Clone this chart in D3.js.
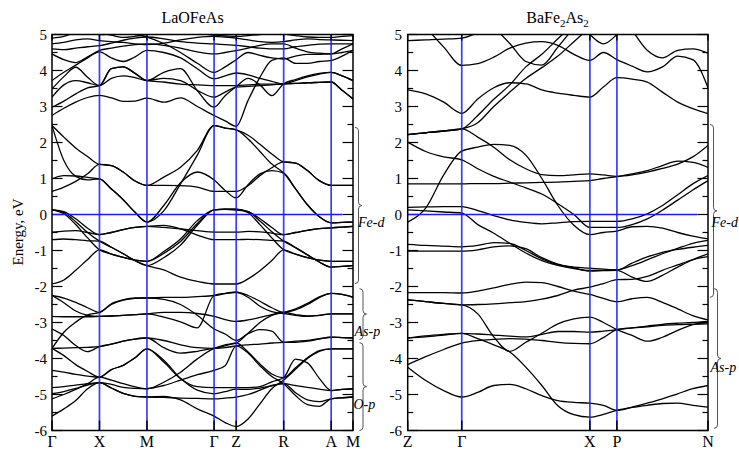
<!DOCTYPE html>
<html><head><meta charset="utf-8">
<script src="https://cdn.jsdelivr.net/npm/d3@7/dist/d3.min.js"></script>
<style>html,body{margin:0;padding:0;background:#fff}svg{display:block}</style>
</head><body>
<script>
// ================= DATA =================
const energyTicks = [5,4,3,2,1,0,-1,-2,-3,-4,-5,-6];
const energyRange = [-6,5];

// ---- LaOFeAs ----
const laofeasTitle = "LaOFeAs";
const laofeasKLabels = ["Γ","X","M","Γ","Z","R","A","M"];
const laofeasKPos = [0,1,2,3.414,3.88,4.88,5.88,6.34];
const laofeasK = [0,0.25,0.5,0.75,1,1.25,1.5,1.75,2,2.354,2.707,3.061,3.414,3.647,3.88,4.13,4.38,4.63,4.88,5.13,5.38,5.63,5.88,6.11,6.34];
const laofeasFeD = [
 [2.47,2.15,1.85,1.61,1.39,1.36,1.18,0.93,0.81,1.04,1.31,1.78,2.47,2.40,2.35,2.20,1.95,1.68,1.46,1.43,1.22,0.94,0.81,0.81,0.81],
 [2.47,1.50,1.06,0.96,0.99,0.71,0.41,0.06,-0.21,0.10,0.85,1.65,2.47,2.40,2.35,2.10,1.75,1.40,1.15,0.71,0.27,-0.06,-0.23,-0.22,-0.21],
 [0.99,1.08,1.07,1.03,0.99,0.71,0.41,0.06,-0.21,0.25,0.88,1.18,0.96,0.67,0.46,0.83,1.13,1.22,1.15,0.71,0.27,-0.06,-0.23,-0.22,-0.21],
 [0.64,0.76,0.92,1.13,1.39,1.36,1.18,0.93,0.81,0.81,0.80,0.76,0.64,0.64,0.64,0.80,1.08,1.30,1.46,1.43,1.22,0.94,0.81,0.81,0.81],
 [0.13,0.08,-0.12,-0.38,-0.56,-0.50,-0.42,-0.36,-0.33,-0.30,-0.40,-0.57,-0.70,-0.70,-0.70,-0.69,-0.70,-0.72,-0.74,-0.92,-1.12,-1.32,-1.46,-1.44,-1.42],
 [0.13,0.05,-0.20,-0.50,-0.74,-0.91,-1.09,-1.28,-1.42,-1.20,-0.85,-0.30,0.13,0.15,0.15,0.08,-0.18,-0.48,-0.74,-0.92,-1.12,-1.32,-1.46,-1.44,-1.42],
 [0.13,0.02,-0.28,-0.65,-0.98,-1.10,-1.19,-1.27,-1.30,-1.03,-0.68,-0.17,0.13,0.15,0.15,0.05,-0.28,-0.65,-0.98,-1.10,-1.20,-1.27,-1.30,-1.30,-1.30],
 [-0.49,-0.46,-0.45,-0.50,-0.56,-0.50,-0.42,-0.36,-0.33,-0.36,-0.40,-0.45,-0.49,-0.49,-0.49,-0.47,-0.48,-0.52,-0.56,-0.50,-0.44,-0.39,-0.37,-0.35,-0.33],
 [-0.70,-0.68,-0.70,-0.73,-0.74,-0.91,-1.09,-1.28,-1.42,-1.54,-1.74,-1.86,-1.93,-1.93,-1.93,-1.79,-1.56,-1.28,-0.98,-1.10,-1.20,-1.27,-1.30,-1.30,-1.30],
 [-1.93,-1.82,-1.55,-1.25,-0.98,-1.10,-1.19,-1.27,-1.30,-1.08,-0.75,-0.25,0.13,0.14,0.12,0.08,-0.12,-0.36,-0.56,-0.50,-0.44,-0.39,-0.37,-0.35,-0.33]
];
const laofeasAsOP = [
 [-2.25,-2.32,-2.44,-2.59,-2.72,-2.48,-2.37,-2.32,-2.32,-2.30,-2.30,-2.28,-2.25,-2.20,-2.16,-2.25,-2.41,-2.59,-2.72,-2.65,-2.50,-2.31,-2.19,-2.22,-2.30],
 [-2.25,-2.45,-2.68,-2.80,-2.83,-2.82,-2.80,-2.78,-2.76,-2.85,-2.98,-3.15,-2.25,-2.19,-2.16,-2.30,-2.55,-2.70,-2.75,-2.80,-2.83,-2.80,-2.76,-2.76,-2.76],
 [-2.83,-2.84,-2.84,-2.84,-2.83,-2.82,-2.80,-2.78,-2.76,-2.72,-2.72,-2.75,-2.83,-2.92,-2.97,-2.93,-2.86,-2.78,-2.72,-2.78,-2.82,-2.80,-2.76,-2.76,-2.76],
 [-3.72,-3.27,-2.99,-2.79,-2.72,-2.50,-2.38,-2.33,-2.32,-2.36,-2.50,-2.80,-3.18,-3.32,-3.50,-3.31,-3.20,-3.24,-3.55,-3.52,-3.50,-3.45,-3.41,-3.42,-3.43],
 [-3.18,-3.36,-3.64,-3.81,-3.67,-3.60,-3.52,-3.46,-3.43,-3.50,-3.62,-3.70,-3.72,-3.65,-3.57,-3.82,-4.15,-4.43,-4.53,-4.26,-3.98,-3.78,-3.73,-3.73,-3.73],
 [-3.72,-3.71,-3.70,-3.69,-3.67,-3.60,-3.52,-3.46,-3.43,-3.70,-3.85,-3.80,-3.72,-3.70,-3.65,-3.62,-3.60,-3.57,-3.55,-3.55,-3.52,-3.46,-3.41,-3.42,-3.43],
 [-3.72,-3.92,-4.17,-4.36,-4.52,-4.31,-4.19,-3.98,-3.73,-4.10,-4.56,-4.78,-4.81,-4.81,-4.81,-4.81,-4.78,-4.65,-4.53,-4.02,-4.12,-4.55,-4.89,-4.86,-4.84],
 [-4.33,-4.38,-4.44,-4.49,-4.52,-4.31,-4.19,-3.98,-3.73,-4.05,-4.55,-4.88,-4.98,-4.92,-4.85,-4.86,-4.82,-4.76,-4.70,-4.75,-4.80,-4.85,-4.89,-4.86,-4.84],
 [-5.12,-5.00,-4.86,-4.70,-4.52,-4.60,-4.70,-4.79,-4.84,-4.66,-4.38,-4.01,-3.72,-3.62,-3.57,-3.30,-3.00,-2.80,-2.72,-2.62,-2.47,-2.29,-2.19,-2.22,-2.30],
 [-4.81,-4.78,-4.74,-4.70,-4.67,-4.72,-4.80,-4.83,-4.84,-4.75,-4.60,-4.45,-4.33,-4.20,-3.65,-3.85,-4.20,-4.50,-4.70,-5.03,-5.28,-5.33,-5.12,-5.09,-5.07],
 [-4.98,-4.92,-4.83,-4.74,-4.67,-4.82,-4.97,-5.05,-5.07,-5.08,-5.10,-5.11,-5.12,-5.10,-5.07,-5.00,-4.88,-4.75,-4.70,-4.95,-5.15,-5.20,-5.12,-5.09,-5.07],
 [-5.60,-5.40,-5.17,-4.84,-4.67,-4.82,-4.97,-5.05,-5.07,-5.05,-5.15,-5.40,-5.60,-5.78,-5.89,-5.68,-5.26,-4.84,-4.60,-4.30,-4.00,-3.80,-3.73,-3.73,-3.73]
];
const laofeasUpper = [
 [2.75,2.95,3.12,3.25,3.31,3.24,3.14,3.15,3.23,3.12,3.24,3.00,2.75,2.60,2.45,3.17,3.81,4.28,4.35,4.20,4.20,4.25,4.28,4.40,4.56],
 [2.98,3.15,3.35,3.52,3.58,4.05,4.10,3.92,3.72,3.95,4.05,3.44,2.98,3.30,3.55,3.78,3.60,3.30,3.63,3.75,3.85,3.92,3.95,3.85,3.72],
 [3.26,3.60,3.72,3.66,3.58,3.78,3.85,3.80,3.72,3.78,3.72,3.45,3.26,3.40,3.54,3.56,3.58,3.60,3.63,3.64,3.66,3.67,3.68,3.45,3.21],
 [3.49,3.83,4.09,3.81,3.58,4.05,4.10,3.92,3.72,3.68,3.62,3.60,3.58,3.58,3.58,3.60,3.62,3.62,3.63,3.72,3.82,3.90,3.95,3.85,3.72],
 [3.72,3.95,4.15,4.35,4.52,4.35,4.25,4.38,4.56,4.50,4.35,4.05,3.77,3.85,3.93,3.88,3.78,3.70,3.63,3.64,3.66,3.67,3.68,3.45,3.21],
 [4.46,4.30,4.22,4.38,4.56,4.62,4.68,4.72,4.74,4.70,4.62,4.52,4.46,4.50,4.55,4.62,4.70,4.74,4.74,4.62,4.52,4.48,4.46,4.50,4.56],
 [4.60,4.58,4.62,4.66,4.69,4.76,4.84,4.90,4.93,4.88,4.80,4.76,4.74,4.72,4.70,4.66,4.62,4.60,4.60,4.66,4.70,4.73,4.74,4.74,4.74],
 [4.74,4.78,4.85,4.88,4.83,4.80,4.78,4.74,4.72,4.76,4.85,4.92,4.95,4.93,4.90,4.85,4.80,4.78,4.80,4.85,4.88,4.86,4.85,4.84,4.83],
 [4.90,4.95,5.05,5.10,5.05,4.98,4.92,4.95,5.00,5.05,5.10,5.05,4.98,4.96,4.95,4.97,5.00,5.05,5.02,4.97,4.93,4.92,4.92,4.95,4.97],
 [5.20,5.15,5.10,5.05,5.00,5.02,5.05,5.00,4.93,4.75,4.50,4.20,3.95,4.10,4.30,4.50,4.42,4.35,4.32,4.40,4.45,4.45,4.46,4.60,4.74]
];
const laofeasBraces = [["Fe-d",2.42,-1.92],["As-p",-2.06,-3.47],["O-p",-3.56,-6.0]];

// ---- BaFe2As2 ----
const bafe2as2KLabels = ["Z","Γ","X","P","N"];
const bafe2as2KPos = [0,0.54,1.82,2.09,3.0];
const bafe2as2K = [0,0.18,0.36,0.54,0.70,0.86,1.02,1.18,1.34,1.50,1.66,1.82,1.955,2.09,2.242,2.393,2.545,2.697,2.848,3.0];
const bafe2as2FeD = [
 [2.22,2.27,2.32,2.38,2.75,3.20,3.60,4.10,4.45,4.88,5.30,null,null,null,null,null,null,null,null,null],
 [2.01,1.75,1.60,1.52,1.27,1.06,0.90,0.74,0.57,0.30,0.00,-0.36,-0.36,-0.36,-0.28,-0.12,0.12,0.40,0.68,0.94],
 [-0.21,0.18,1.10,1.76,1.87,1.95,1.92,1.65,1.00,0.25,-0.30,-0.56,-0.50,-0.46,-0.34,-0.33,-0.38,-0.50,-0.60,-0.68],
 [2.22,2.27,2.32,2.38,2.15,1.87,1.52,1.27,1.11,1.08,1.10,1.13,1.10,1.06,1.10,1.18,1.28,1.40,1.60,1.92],
 [0.85,0.85,0.85,0.85,0.86,0.86,0.87,0.88,0.89,0.90,0.92,0.94,1.00,1.05,1.13,1.22,1.36,1.48,1.45,1.31],
 [0.20,0.21,0.22,0.22,0.11,-0.03,-0.15,-0.22,-0.26,-0.23,-0.20,-0.19,-0.19,-0.19,-0.12,0.02,0.25,0.55,0.85,1.08],
 [0.13,0.10,0.07,0.04,-0.28,-0.52,-0.80,-1.07,-1.28,-1.41,-1.50,-1.55,-1.55,-1.54,-1.42,-1.26,-1.09,-0.94,-0.80,-0.72],
 [-0.83,-0.86,-0.88,-0.90,-0.86,-0.78,-0.80,-1.00,-1.23,-1.39,-1.46,-1.49,-1.52,-1.54,-1.35,-1.18,-1.05,-0.97,-0.91,-0.86],
 [-1.02,-1.02,-1.02,-1.02,-0.98,-0.90,-0.87,-0.95,-1.20,-1.38,-1.48,-1.57,-1.56,-1.55,-1.74,-1.86,-1.69,-1.46,-1.26,-1.17]
];
const bafe2as2AsP = [
 [-2.17,-2.17,-2.17,-2.18,-2.13,-2.04,-1.94,-1.88,-1.89,-2.00,-2.13,-2.22,-2.33,-2.42,-2.34,-2.30,-2.44,-2.62,-2.81,-2.93],
 [-2.37,-2.42,-2.47,-2.51,-2.50,-2.48,-2.45,-2.42,-2.35,-2.25,-2.10,-2.02,-1.92,-1.81,-1.80,-1.72,-1.55,-1.40,-1.25,-1.09],
 [-2.37,-2.42,-2.47,-2.51,-2.76,-3.40,-3.80,-3.55,-3.30,-3.04,-2.90,-2.85,-3.00,-3.20,-3.36,-3.52,-3.41,-3.22,-3.06,-3.00],
 [-3.43,-3.40,-3.35,-3.30,-3.45,-3.62,-3.82,-4.24,-4.75,-5.31,-5.56,-5.63,-5.55,-5.44,-5.36,-5.30,-5.25,-5.24,-5.30,-5.35],
 [-3.43,-3.37,-3.33,-3.30,-3.32,-3.35,-3.38,-3.40,-3.33,-3.25,-3.25,-3.27,-3.24,-3.20,-3.15,-3.10,-3.05,-3.02,-3.00,-2.97],
 [-4.17,-3.95,-3.75,-3.57,-3.50,-3.47,-3.45,-3.46,-3.50,-3.55,-3.58,-3.59,-3.42,-3.20,-3.15,-3.12,-3.08,-3.06,-3.05,-3.04],
 [-4.24,-4.61,-4.89,-5.07,-4.94,-4.75,-4.72,-4.84,-5.03,-5.17,-5.22,-5.24,-5.30,-5.44,-5.35,-5.24,-5.12,-4.98,-4.84,-4.75]
];
const bafe2as2Upper = [
 [4.83,4.85,4.87,4.90,5.05,5.30,null,null,null,null,5.50,5.00,4.74,5.00,5.50,null,null,null,null,null],
 [null,5.20,4.65,4.14,4.19,4.37,4.62,4.76,4.80,4.70,4.45,4.28,4.50,4.30,4.12,3.96,4.10,4.40,4.30,3.52],
 [3.46,3.35,3.12,2.81,3.21,3.52,3.66,3.63,3.46,3.37,3.31,3.26,3.54,3.80,3.76,3.68,3.40,3.12,2.94,2.80],
 [2.22,2.27,2.32,2.38,2.55,3.00,3.40,3.78,4.08,4.40,4.80,5.20,null,null,null,null,null,null,null,null],
 [null,null,null,null,null,5.20,4.75,4.25,4.15,4.65,5.20,null,null,null,null,null,null,null,null,null],
 [null,null,null,null,null,null,null,null,null,null,null,null,null,5.50,5.10,4.56,4.35,4.56,4.60,4.48]
];
const bafe2as2Braces = [["Fe-d",2.5,-2.3],["As-p",-2.06,-5.94]];

// ================= DRAWING =================
const svg = d3.select("body").append("svg").attr("width",739).attr("height",452);
const yTop = 34.5, yBot = 430.5;
const y = d3.scaleLinear().domain(energyRange).range([yBot, yTop]);
const serif = "'Liberation Serif','Times New Roman',Times,serif";

function panel(id, x0, x1, kPos, kLabels, kGrid, bandGroups, braces, braceStyle, labelX) {
  const x = d3.scaleLinear().domain([kPos[0], kPos[kPos.length-1]]).range([x0, x1]);
  const g = svg.append("g");
  g.append("clipPath").attr("id","clip"+id).append("rect")
    .attr("x",x0).attr("y",yTop).attr("width",x1-x0).attr("height",yBot-yTop);

  const ticks = g.append("g").attr("stroke","#000").attr("stroke-width",1.2);
  for (let e = energyRange[0]; e <= energyRange[1]+1e-9; e += 0.5) {
    const major = Math.abs(e - Math.round(e)) < 1e-9;
    const L = major ? 10.5 : 5.5;
    ticks.append("line").attr("x1",x0).attr("x2",x0+L).attr("y1",y(e)).attr("y2",y(e));
    if (!(major && e === 0)) ticks.append("line").attr("x1",x1-L).attr("x2",x1).attr("y1",y(e)).attr("y2",y(e));
  }

  const line = d3.line().defined(d => d[1] !== null)
    .x(d => x(d[0])).y(d => y(d[1])).curve(d3.curveMonotoneX);
  const bg = g.append("g").attr("clip-path","url(#clip"+id+")");
  bandGroups.forEach(group => group.forEach(b => {
    bg.append("path").attr("d", line(b.map((v,i)=>[kGrid[i], v])))
      .attr("fill","none").attr("stroke","#000").attr("stroke-width",1.3);
  }));

  const blue = g.append("g").attr("stroke","#1a1aff");
  kPos.slice(1,-1).forEach(k => blue.append("line")
    .attr("x1",x(k)).attr("x2",x(k)).attr("y1",yTop).attr("y2",yBot).attr("stroke-width",1.7).attr("stroke-opacity",0.85));
  blue.append("line").attr("x1",x0).attr("x2",x1-10.5).attr("y1",y(0)).attr("y2",y(0)).attr("stroke-width",1.4);
  ticks.append("line").attr("x1",x1-10.5).attr("x2",x1).attr("y1",y(0)).attr("y2",y(0));

  const kt = g.append("g").attr("stroke","#000").attr("stroke-width",1.4);
  kPos.forEach(k => {
    kt.append("line").attr("x1",x(k)).attr("x2",x(k)).attr("y1",yBot-10).attr("y2",yBot);
    kt.append("line").attr("x1",x(k)).attr("x2",x(k)).attr("y1",yTop).attr("y2",yTop+6);
  });

  g.append("rect").attr("x",x0).attr("y",yTop).attr("width",x1-x0).attr("height",yBot-yTop)
    .attr("fill","none").attr("stroke","#000").attr("stroke-width",1.5);

  energyTicks.forEach(e => g.append("text").attr("x",labelX).attr("y",y(e)+5)
    .attr("text-anchor","end").attr("font-family",serif).attr("font-size",15).text(e < 0 ? "-" + Math.abs(e) : e));

  kPos.forEach((k,i) => g.append("text").attr("x",x(k)).attr("y",447)
    .attr("text-anchor","middle").attr("font-family",serif).attr("font-size",16).text(kLabels[i]));

  braces.forEach((b,i) => {
    const [lab, eTop, eBot] = b;
    const st = braceStyle[i];
    const sx = st.sx, t = y(eTop), bo = y(eBot), m = (t+bo)/2, h = 3.5, tip = 3.5;
    const p = `M${sx-h},${t} Q${sx},${t} ${sx},${t+h} L${sx},${m-h} Q${sx},${m} ${sx+tip},${m} Q${sx},${m} ${sx},${m+h} L${sx},${bo-h} Q${sx},${bo} ${sx-h},${bo}`;
    g.append("path").attr("d",p).attr("fill","none").attr("stroke","#555").attr("stroke-width",1);
    g.append("text").attr("x",st.lx).attr("y",st.ly).attr("font-family",serif)
      .attr("font-style","italic").attr("font-size",14).text(lab);
  });
  return x;
}

panel("L", 52, 353, laofeasKPos, laofeasKLabels, laofeasK,
  [laofeasFeD, laofeasAsOP, laofeasUpper], laofeasBraces,
  [{sx:358.5,lx:358,ly:227},{sx:363,lx:354.5,ly:336},{sx:363,lx:353.5,ly:409}], 47);

panel("R", 407.7, 708, bafe2as2KPos, bafe2as2KLabels, bafe2as2K,
  [bafe2as2FeD, bafe2as2AsP, bafe2as2Upper], bafe2as2Braces,
  [{sx:713.5,lx:711.5,ly:227},{sx:717.5,lx:710.5,ly:372}], 402);

svg.append("text").attr("x",192.5).attr("y",23).attr("text-anchor","middle")
  .attr("font-family",serif).attr("font-size",16).text(laofeasTitle);
const t2 = svg.append("text").attr("x",557.5).attr("y",23).attr("text-anchor","middle")
  .attr("font-family",serif).attr("font-size",16);
t2.append("tspan").text("BaFe");
t2.append("tspan").attr("font-size",11).attr("dy",4).text("2");
t2.append("tspan").attr("dy",-4).text("As");
t2.append("tspan").attr("font-size",11).attr("dy",4).text("2");

svg.append("text").attr("transform","translate(23,232) rotate(-90)").attr("text-anchor","middle")
  .attr("font-family",serif).attr("font-size",15).text("Energy, eV");
</script>
</body></html>
